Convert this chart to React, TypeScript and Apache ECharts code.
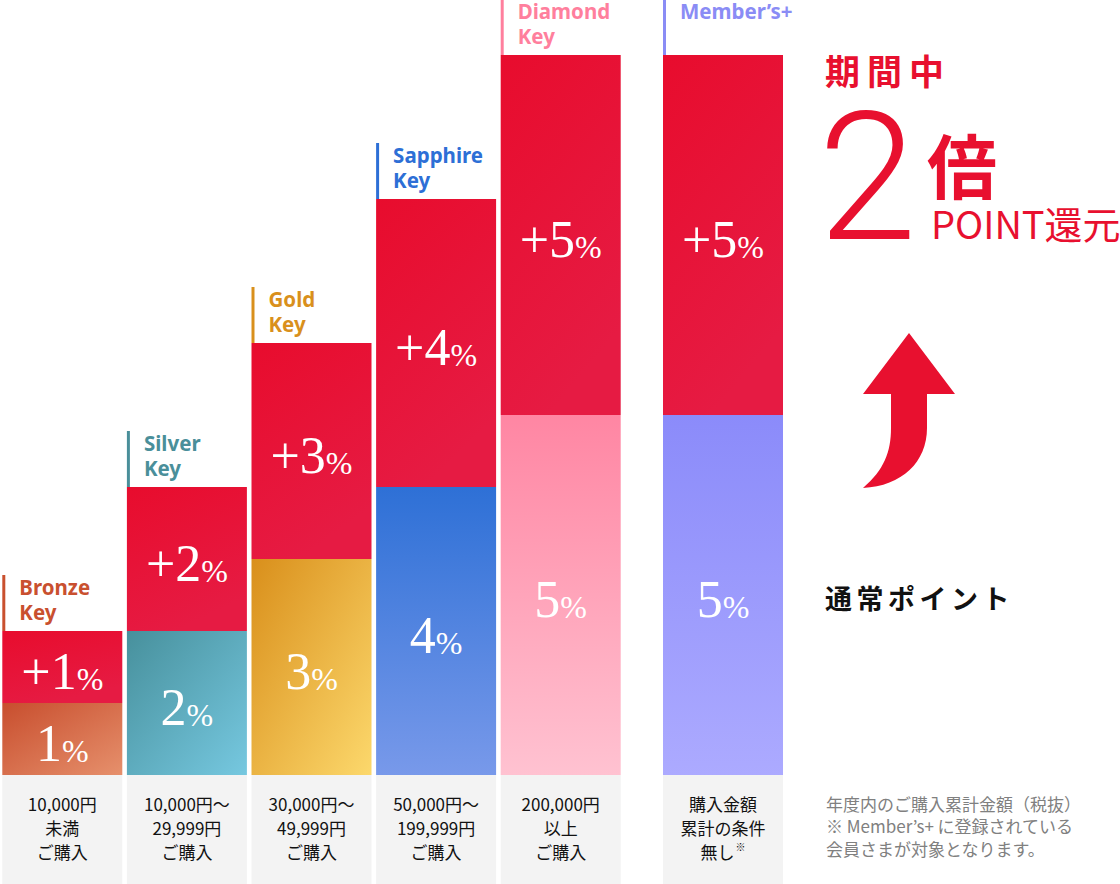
import * as echarts from "echarts";
import { useEffect, useRef } from "react";

// tiers (main group)
const tierNames = ["Bronze\nKey", "Silver\nKey", "Gold\nKey", "Sapphire\nKey", "Diamond\nKey"];
const baseRates = [1, 2, 3, 4, 5];
const bonusRates = [1, 2, 3, 4, 5];
const conditions = [
  "10,000円\n未満\nご購入",
  "10,000円〜\n29,999円\nご購入",
  "30,000円〜\n49,999円\nご購入",
  "50,000円〜\n199,999円\nご購入",
  "200,000円\n以上\nご購入",
];

// member group
const memberNames = ["Member’s+"];
const memberBase = [5];
const memberBonus = [5];
const memberConditions = ["購入金額\n累計の条件\n無し{sup|※}"];

const noteLines = [
  "年度内のご購入累計金額（税抜）",
  "※ Member’s+ に登録されている",
  "会員さまが対象となります。",
];

// styles
const tierColors = ["#c9502f", "#4a8f9a", "#d9901c", "#2d6fd6", "#ff7f9d"];
const memberColors = ["#8a8cf5"];
const baseGradients: [string, string, boolean][] = [
  ["#c84e2e", "#e6906c", true],
  ["#47909c", "#76c8e0", true],
  ["#d98f1b", "#fcd86c", true],
  ["#2e70d6", "#7899ea", false],
  ["#ff86a3", "#ffc2d1", false],
];
const memberGradients: [string, string, boolean][] = [["#8b8bfa", "#acaaff", false]];

const RED = "#e8102f";
const SERIF = '"Liberation Serif", serif';
const SANS = '"Noto Sans CJK JP", "Noto Sans", sans-serif';

function grad(c: [string, string, boolean]) {
  return new echarts.graphic.LinearGradient(0, 0, c[2] ? 1 : 0, 1, [
    { offset: 0, color: c[0] },
    { offset: 1, color: c[1] },
  ]);
}

const redGrad = () =>
  new echarts.graphic.LinearGradient(0, 0, 0.4, 1, [
    { offset: 0, color: "#e80c2d" },
    { offset: 1, color: "#e61b43" },
  ]);

const pctLabel = (plus: boolean) => ({
  show: true,
  position: "inside",
  formatter: (p: any) => `{n|${plus ? "+" : ""}${p.value}}{p|%}`,
  rich: {
    n: { fontFamily: SERIF, fontSize: 52, color: "#fff", verticalAlign: "bottom", lineHeight: 60 },
    p: { fontFamily: SERIF, fontSize: 32, color: "#fff", verticalAlign: "bottom", lineHeight: 60, padding: [0, 0, 2, 0] },
  },
});

function makeGroup(
  gi: number,
  names: string[],
  base: number[],
  bonus: number[],
  conds: string[],
  colors: string[],
  grads: [string, string, boolean][]
) {
  return [
    {
      type: "bar",
      xAxisIndex: gi,
      yAxisIndex: gi,
      stack: "s" + gi,
      barWidth: 120,
      data: base.map((v, i) => ({ value: v, itemStyle: { color: grad(grads[i]) } })),
      label: pctLabel(false),
    },
    {
      type: "bar",
      xAxisIndex: gi,
      yAxisIndex: gi,
      stack: "s" + gi,
      barWidth: 120,
      data: bonus.map((v) => ({ value: v, itemStyle: { color: redGrad() } })),
      label: pctLabel(true),
    },
    {
      // tier name tag above each bar
      type: "custom",
      xAxisIndex: gi,
      yAxisIndex: gi,
      clip: false,
      data: names.map((_, i) => [i, base[i] + bonus[i]]),
      renderItem: (params: any, api: any) => {
        const i = params.dataIndex;
        const pt = api.coord([api.value(0), api.value(1)]);
        const left = pt[0] - 60;
        return {
          type: "group",
          children: [
            { type: "rect", shape: { x: left, y: pt[1] - 56, width: 3, height: 56 }, style: { fill: colors[i] } },
            {
              type: "text",
              x: left + 17,
              y: pt[1] - 57,
              style: {
                text: names[i],
                fill: colors[i],
                font: 'bold 20.5px "Noto Sans", sans-serif',
                lineHeight: 25,
                verticalAlign: "top",
              },
            },
          ],
        };
      },
    },
    {
      // purchase-condition box under each bar
      type: "custom",
      xAxisIndex: gi,
      yAxisIndex: gi,
      clip: false,
      data: names.map((_, i) => [i, 0]),
      renderItem: (params: any, api: any) => {
        const i = params.dataIndex;
        const pt = api.coord([api.value(0), 0]);
        return {
          type: "group",
          children: [
            { type: "rect", shape: { x: pt[0] - 60, y: pt[1], width: 120, height: 120 }, style: { fill: "#f3f3f3" } },
            {
              type: "text",
              x: pt[0],
              y: pt[1] + 16,
              style: {
                text: conds[i],
                fill: "#111",
                fontFamily: SANS,
                fontSize: 17,
                lineHeight: 24,
                align: "center",
                verticalAlign: "top",
                rich: { sup: { fontFamily: SANS, fontSize: 10, fill: "#111", padding: [0, 0, 10, 1] } },
              },
            },
          ],
        };
      },
    },
  ];
}

function spaced(text: string, x: number, y: number, pitch: number, style: any) {
  return text.split("").map((ch, k) => ({
    type: "text",
    x: x + k * pitch,
    y,
    style: { text: ch, verticalAlign: "middle", ...style },
  }));
}

const arrowPath =
  "M909,333 L955,394 L927,394 L927,428 C927,462 902,486 863,488 C884,470 891,452 891,428 L891,394 L863,394 Z";
echarts.graphic.registerShape("upArrow", echarts.graphic.extendPath(arrowPath, {}) as any);

export default function App() {
  const ref = useRef<HTMLDivElement>(null);

  useEffect(() => {
    if (!ref.current) return;
    const chart = echarts.init(ref.current, null, { renderer: "svg" });

    const yAxis = { type: "value", min: 0, max: 10, show: false };
    const xAxisBase = { type: "category", show: false, axisTick: { show: false } };

    chart.setOption({
      animation: false,
      grid: [
        { left: -3, top: 55, width: 626, height: 720 },
        { left: 660, top: 55, width: 126, height: 720 },
      ],
      xAxis: [
        { ...xAxisBase, gridIndex: 0, data: tierNames },
        { ...xAxisBase, gridIndex: 1, data: memberNames },
      ],
      yAxis: [
        { ...yAxis, gridIndex: 0 },
        { ...yAxis, gridIndex: 1 },
      ],
      series: [
        ...makeGroup(0, tierNames, baseRates, bonusRates, conditions, tierColors, baseGradients),
        ...makeGroup(1, memberNames, memberBase, memberBonus, memberConditions, memberColors, memberGradients),
      ],
      graphic: [
        ...spaced("期間中", 825, 69, 42, { fill: RED, font: `bold 35px ${SANS}` }),
        {
          type: "text",
          x: 818,
          y: 178,
          style: { text: "2", fill: RED, font: "300 178px Roboto", lineHeight: 128, verticalAlign: "middle" },
        },
        {
          type: "text",
          x: 927,
          y: 163,
          style: { text: "倍", fill: RED, font: `bold 70px ${SANS}`, verticalAlign: "middle" },
        },
        {
          type: "text",
          x: 931,
          y: 222,
          style: { text: "POINT還元", fill: RED, font: `400 38px ${SANS}`, verticalAlign: "middle" },
        },
        { type: "upArrow", style: { fill: RED } },
        ...spaced("通常ポイント", 825, 597, 31.5, { fill: "#111", font: `bold 27px ${SANS}` }),
        {
          type: "text",
          x: 826,
          y: 792,
          style: {
            text: noteLines.join("\n"),
            fill: "#808080",
            font: `17px ${SANS}`,
            lineHeight: 22.5,
            verticalAlign: "top",
          },
        },
      ],
    });

    return () => chart.dispose();
  }, []);

  return (
    <div
      ref={ref}
      style={{ position: "absolute", left: 0, top: 0, width: 1120, height: 884, background: "#fff" }}
    />
  );
}
